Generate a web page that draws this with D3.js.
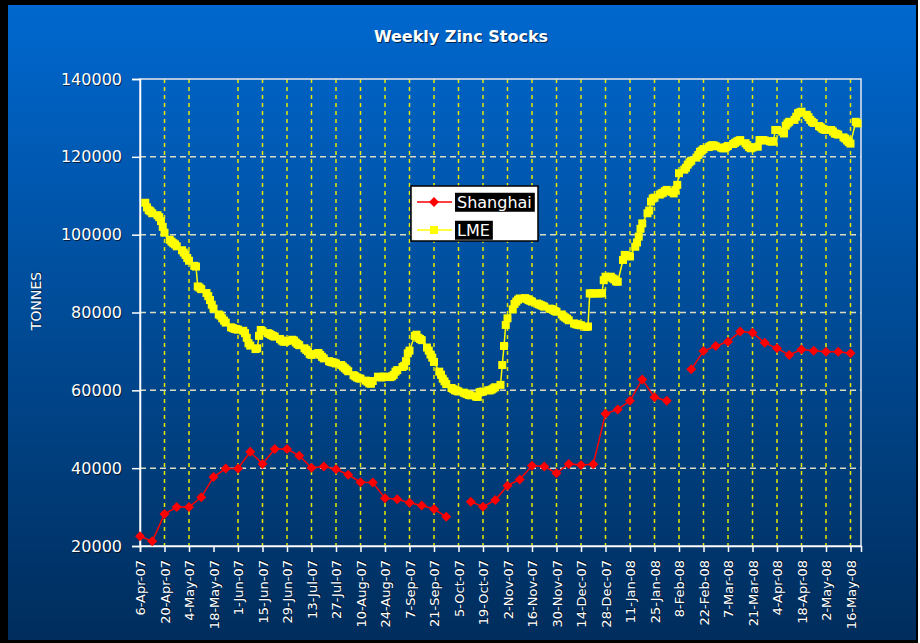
<!DOCTYPE html>
<html><head><meta charset="utf-8">
<script src="https://cdn.jsdelivr.net/npm/d3@7"></script>
<style>
body{margin:0;background:#fff}
svg{display:block}
text{font-family:"DejaVu Sans",Verdana,sans-serif;fill:#fff}
.sh{text-shadow:1px 1px 0 rgba(0,0,0,0.65)}
</style>
</head><body>
<svg id="c" width="920" height="643"></svg>
<script>
const title = "Weekly Zinc Stocks";
const yLabel = "TONNES";
const seriesNames = ["Shanghai", "LME"];
const tickLabels = ["6-Apr-07","20-Apr-07","4-May-07","18-May-07","1-Jun-07","15-Jun-07","29-Jun-07","13-Jul-07","27-Jul-07","10-Aug-07","24-Aug-07","7-Sep-07","21-Sep-07","5-Oct-07","19-Oct-07","2-Nov-07","16-Nov-07","30-Nov-07","14-Dec-07","28-Dec-07","11-Jan-08","25-Jan-08","8-Feb-08","22-Feb-08","7-Mar-08","21-Mar-08","4-Apr-08","18-Apr-08","2-May-08","16-May-08"];
const yTicks = [20000,40000,60000,80000,100000,120000,140000];
const axisEnd = "2008-05-22";

// Shanghai: weekly (Fridays) from 6-Apr-07; null = no data
const shanghaiStart = "2007-04-06";
const shanghai = [22500,21200,28200,30000,30000,32500,37700,39900,39900,44200,
  41100,44900,44900,43200,40100,40400,39700,38300,36400,36300,
  32300,32000,31100,30400,29500,27500,null,31400,30100,31800,
  35500,37100,40600,40400,38700,41100,40800,41000,54000,55100,
  57300,62800,58200,57300,null,65400,70100,71400,72500,75100,
  74800,72200,70800,69100,70500,70200,69900,69900,69500];

// LME: daily (Mon-Fri) from 9-Apr-07, one row per week
const lmeStart = "2007-04-09";
const lme = [
  [108200,107000,106300,106000,105500],
  [105000,104500,103500,102000,100500],
  [98700,98200,97800,97500,97000],
  [96000,95400,94800,94000,93300],
  [92000,91800,86700,86400,86000],
  [85000,84200,83200,82000,81000],
  [79500,79200,78500,77900,77400],
  [76200,76000,75800,75700,75600],
  [75300,74700,73500,72100,71500],
  [70600,70800,74000,75500,75200],
  [74700,74500,74200,74000,73800],
  [73200,72800,72500,72500,72700],
  [73000,72800,72300,71900,71600],
  [70800,70400,70000,69300,69100],
  [69400,69600,69100,68600,68200],
  [67500,67300,67200,67100,66900],
  [66500,66100,65700,65300,64900],
  [63900,63600,63300,63100,63000],
  [62500,62200,61800,61700,62400],
  [63500,63400,63300,63500,63500],
  [63400,63600,64000,64800,65200],
  [66000,66300,67500,69500,70200],
  [74000,74300,73500,73200,72900],
  [71000,70200,69200,68400,67300],
  [64800,64000,63000,62300,61600],
  [60600,60300,60000,59900,59700],
  [59400,59200,59000,58800,58700],
  [58400,58300,59500,59600,59700],
  [60000,60000,60200,60500,60800],
  [61400,66500,71400,76800,78500],
  [80800,82200,82800,83300,83600],
  [83700,83500,83200,83000,82800],
  [82300,82100,81900,81700,81500],
  [81000,80900,80700,80400,80200],
  [79500,79000,78700,78400,78000],
  [77200,77000,76900,76800,76700],
  [76300,76400,84900,84900,84900],
  [84900,84900,85000,88300,89200],
  [89200,88800,88500,88000,87900],
  [93500,94800,94700,94500,94400],
  [96900,98000,99500,101500,102900],
  [105500,106200,108500,109300,109500],
  [110300,110600,110800,111200,111500],
  [111000,110600,111500,112800,115800],
  [116700,117200,118000,118600,119000],
  [119800,120500,121300,121600,122000],
  [122500,122800,123000,122900,122700],
  [122400,122200,122200,122500,122800],
  [123300,123600,123900,124100,124300],
  [123500,123000,122500,122200,122400],
  [122600,124300,124300,124300,124200],
  [124000,123900,124000,126900,126900],
  [126500,126000,128000,128600,129000],
  [129500,130300,131200,131400,131600],
  [130800,130200,129500,129000,128700],
  [127900,127600,127200,127000,126900],
  [126900,126500,126000,125900,125700],
  [125000,124700,124200,123800,123400],
  [129000,128600]
];

const W = 920, H = 643;
const P = {l:140, r:861, t:79, b:546};
const parseISO = d3.timeParse("%Y-%m-%d");
const parseTick = d3.timeParse("%d-%b-%y");

const shData = shanghai.map((v,i)=>({date:d3.timeDay.offset(parseISO(shanghaiStart), 7*i), v}));
const lmeData = [];
lme.forEach((row,w)=>row.forEach((v,d)=>lmeData.push({date:d3.timeDay.offset(parseISO(lmeStart), 7*w+d), v})));
const tickDates = tickLabels.map(parseTick);

const x = d3.scaleTime().domain([tickDates[0], parseISO(axisEnd)]).range([P.l, P.r]);
const y = d3.scaleLinear().domain([20000,140000]).range([P.b, P.t]);

const svg = d3.select("#c");
const defs = svg.append("defs");
const grad = defs.append("linearGradient").attr("id","bg").attr("x1",0).attr("y1",0).attr("x2",0).attr("y2",1);
grad.append("stop").attr("offset","0%").attr("stop-color","#0068cf");
grad.append("stop").attr("offset","100%").attr("stop-color","#002d5c");

svg.append("rect").attr("x",0).attr("y",0).attr("width",918).attr("height",H).attr("fill","#000");
svg.append("rect").attr("x",8).attr("y",5).attr("width",908).attr("height",635).attr("fill","url(#bg)");

// title
svg.append("text").attr("class","sh").attr("x",461).attr("y",42).attr("text-anchor","middle")
  .attr("font-size",16).attr("font-weight",600).text(title);

// horizontal gridlines
svg.append("g").selectAll("line").data(yTicks.filter(t=>t>20000 && t<140000)).join("line")
  .attr("x1",P.l).attr("x2",P.r).attr("y1",d=>y(d)).attr("y2",d=>y(d))
  .attr("stroke","#d9dcc0").attr("stroke-width",1.5).attr("stroke-dasharray","6,4");

// vertical gridlines (18-May tick has none in the original)
svg.append("g").selectAll("line").data(tickDates.filter((d,i)=>i>0 && i!==3)).join("line")
  .attr("x1",d=>x(d)).attr("x2",d=>x(d)).attr("y1",P.t).attr("y2",P.b)
  .attr("stroke","#e8e800").attr("stroke-width",1.5).attr("stroke-dasharray","4,4");

// plot border
svg.append("rect").attr("x",P.l).attr("y",P.t).attr("width",P.r-P.l).attr("height",P.b-P.t)
  .attr("fill","none").attr("stroke","#e8e8f0").attr("stroke-width",1.5);

// y axis
const yAxis = d3.axisLeft(y).tickValues(yTicks).tickSize(8).tickPadding(10).tickFormat(d3.format("d"));
const gy = svg.append("g").attr("transform",`translate(${P.l},0)`).call(yAxis);
gy.select(".domain").attr("stroke","#fff").attr("stroke-width",1.5);
gy.selectAll(".tick line").attr("stroke","#fff").attr("stroke-width",1.5);
gy.selectAll(".tick text").attr("class","sh").attr("font-size",16).attr("font-family","DejaVu Sans").attr("fill","#fff");

// x axis
const xAxis = d3.axisBottom(x).tickValues(tickDates).tickSize(6).tickFormat((d,i)=>tickLabels[i]);
const gx = svg.append("g").attr("transform",`translate(0,${P.b})`).call(xAxis);
gx.select(".domain").attr("stroke","#fff").attr("stroke-width",1.5);
gx.selectAll(".tick line").attr("stroke","#fff").attr("stroke-width",1.5);
gx.selectAll(".tick text").attr("class","sh").attr("font-size",13).attr("font-family","DejaVu Sans").attr("fill","#fff")
  .attr("text-anchor","end").attr("transform","rotate(-90)").attr("x",-14).attr("y",0).attr("dy","0.35em");

// y label
svg.append("text").attr("class","sh").attr("transform","translate(41,301) rotate(-90)")
  .attr("text-anchor","middle").attr("font-size",14).text(yLabel);

// LME series
const lineLME = d3.line().x(d=>x(d.date)).y(d=>y(d.v));
svg.append("path").datum(lmeData).attr("d",lineLME).attr("fill","none").attr("stroke","#ffff00").attr("stroke-width",1.5);
const ms = 8;
svg.append("g").selectAll("rect").data(lmeData).join("rect")
  .attr("x",d=>x(d.date)-ms/2).attr("y",d=>y(d.v)-ms/2).attr("width",ms).attr("height",ms).attr("fill","#ffff00");

// Shanghai series
const lineSH = d3.line().defined(d=>d.v!==null).x(d=>x(d.date)).y(d=>y(d.v));
svg.append("path").datum(shData).attr("d",lineSH).attr("fill","none").attr("stroke","#ff0000").attr("stroke-width",1.5);
const diamond = "M0,-5L5,0L0,5L-5,0Z";
svg.append("g").selectAll("path").data(shData.filter(d=>d.v!==null)).join("path")
  .attr("transform",d=>`translate(${x(d.date)},${y(d.v)})`).attr("d",diamond).attr("fill","#ff0000");

// legend
const lg = svg.append("g");
lg.append("rect").attr("x",411).attr("y",186).attr("width",127).attr("height",55).attr("fill","#fff").attr("stroke","#000").attr("stroke-width",1.5);
const items = [{name:seriesNames[0], color:"#ff0000", y:202, shape:"d"},{name:seriesNames[1], color:"#ffff00", y:230, shape:"s"}];
items.forEach(it=>{
  lg.append("line").attr("x1",417).attr("x2",452).attr("y1",it.y).attr("y2",it.y).attr("stroke",it.color).attr("stroke-width",1.5);
  if(it.shape==="d") lg.append("path").attr("transform",`translate(434,${it.y})`).attr("d",diamond).attr("fill",it.color);
  else lg.append("rect").attr("x",434-ms/2).attr("y",it.y-ms/2).attr("width",ms).attr("height",ms).attr("fill",it.color);
  const t = lg.append("text").attr("x",457).attr("y",it.y).attr("dy","0.36em").attr("font-size",16).text(it.name);
  const bb = t.node().getBBox();
  lg.insert("rect","text:last-child").attr("x",bb.x-2).attr("y",bb.y).attr("width",bb.width+5).attr("height",bb.height).attr("fill","#000");
});
</script>
</body></html>
